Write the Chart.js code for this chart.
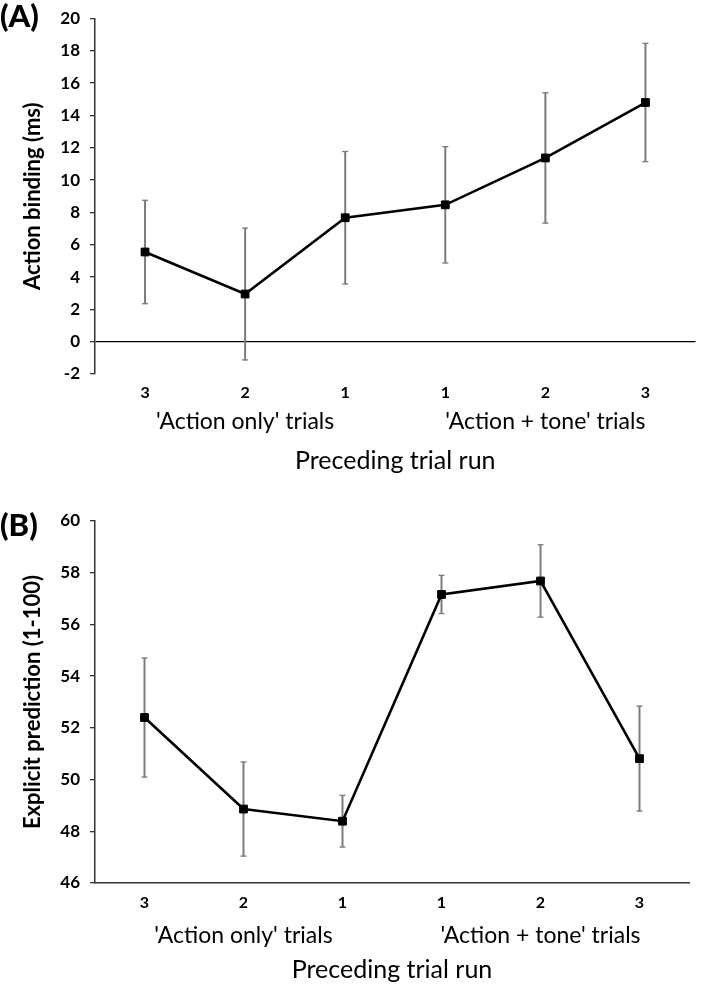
<!DOCTYPE html>
<html><head><meta charset="utf-8">
<script src="https://cdn.jsdelivr.net/npm/chart.js@4.4.1/dist/chart.umd.min.js"></script>
<style>
html,body{margin:0;padding:0;background:#fff;width:702px;height:985px;overflow:hidden;}
#wrap{position:relative;width:702px;height:985px;}
canvas{position:absolute;left:0;}
.lab{position:absolute;left:0;font-family:Lato;font-weight:900;font-size:31px;color:#000;line-height:1;}
</style></head><body>
<div id="wrap">
<canvas id="cA" width="702" height="480" style="top:0"></canvas>
<canvas id="cB" width="702" height="505" style="top:480px"></canvas>
<div class="lab" style="top:0px">(A)</div>
<div class="lab" style="top:509px">(B)</div>
</div>
<script>
// ---- data ----
const runLabels = ['3', '2', '1', '1', '2', '3'];
const groupLabels = ["'Action only' trials", "'Action + tone' trials"];
const xTitle = 'Preceding trial run';

const bindingTitle = 'Action binding (ms)';
const bindingMean = [5.55, 2.95, 7.67, 8.47, 11.37, 14.8];
const bindingErr = [3.2, 4.08, 4.1, 3.6, 4.03, 3.66];
const bindingRange = [-2, 20];

const predTitle = 'Explicit prediction (1-100)';
const predMean = [52.4, 48.86, 48.39, 57.16, 57.68, 50.81];
const predErr = [2.3, 1.82, 1.0, 0.74, 1.4, 2.03];
const predRange = [46, 60];

const tickStep = 2;

// ---- chart builder ----
const FONT = 'Lato';
function build(canvas, mean, err, range, yTitle, L) {
  const lo = mean.map((m, i) => m - err[i]);
  const hi = mean.map((m, i) => m + err[i]);
  const span = mean.map((m, i) => [lo[i], hi[i]]);
  return new Chart(canvas, {
    data: {
      labels: runLabels,
      datasets: [
        { type: 'line', data: mean, borderColor: '#000', borderWidth: 2.6, tension: 0,
          pointStyle: 'rect', pointRadius: 5.5, pointBackgroundColor: '#000', pointBorderColor: '#000',
          pointBorderWidth: 1, order: 0, clip: false },
        { type: 'bar', data: span, backgroundColor: '#7a7a7a', barThickness: 1.3, grouped: false,
          borderWidth: 0, order: 3 },
        { type: 'line', data: hi, showLine: false, pointStyle: 'line', pointRadius: 3,
          pointBorderColor: '#7a7a7a', pointBorderWidth: 1.3, order: 2, clip: false },
        { type: 'line', data: lo, showLine: false, pointStyle: 'line', pointRadius: 3,
          pointBorderColor: '#7a7a7a', pointBorderWidth: 1.3, order: 2, clip: false }
      ]
    },
    options: {
      responsive: false, animation: false, devicePixelRatio: 1,
      layout: { padding: { top: L.padTop, right: L.padRight, left: 0, bottom: 0 } },
      plugins: { legend: { display: false }, tooltip: { enabled: false } },
      scales: {
        x: {
          type: 'category', position: 'bottom', offset: true, weight: 0,
          grid: { display: false, drawTicks: false },
          border: { display: L.xBorder, color: '#333', width: 1.5 },
          ticks: { color: '#000', font: { family: FONT, weight: 'bold', size: 16 }, padding: L.tickPad, maxRotation: 0 },
          afterFit: s => { s.height = L.h1; }
        },
        x2: {
          type: 'category', position: 'bottom', offset: true, weight: 1, labels: groupLabels,
          grid: { display: false, drawTicks: false },
          border: { display: false },
          ticks: { color: '#000', font: { family: FONT, size: 23 }, padding: L.groupPad, maxRotation: 0 },
          title: { display: true, text: xTitle, color: '#000', font: { family: FONT, size: 25 },
                   padding: { top: 0, bottom: L.titlePad } },
          afterFit: s => { s.height = L.h2; }
        },
        y: {
          type: 'linear', min: range[0], max: range[1],
          ticks: { stepSize: tickStep, color: '#000', font: { family: FONT, weight: 'bold', size: 17, lineHeight: 1 }, padding: 10 },
          grid: {
            drawTicks: true, tickLength: 5, tickColor: '#333', tickWidth: 1.3,
            color: c => (L.zeroLine && c.tick && c.tick.value === 0) ? '#000' : 'rgba(0,0,0,0)',
            lineWidth: 1.3
          },
          border: { display: true, color: '#333', width: 1.5 },
          title: { display: true, text: yTitle, color: '#000', font: { family: FONT, size: 22, weight: 'bold' },
                   padding: { top: 20, bottom: 0 } },
          afterFit: s => { s.width = 95; }
        }
      }
    }
  });
}

build(document.getElementById('cA'), bindingMean, bindingErr, bindingRange, bindingTitle,
  { padTop: 8, padRight: 0, xBorder: false, zeroLine: true, tickPad: 9, h1: 30, groupPad: 4, h2: 76, titlePad: 4 });
build(document.getElementById('cB'), predMean, predErr, predRange, predTitle,
  { padTop: 41, padRight: 13, xBorder: true, zeroLine: false, tickPad: 10, h1: 30, groupPad: 9, h2: 72, titlePad: 0 });
</script>
</body></html>
